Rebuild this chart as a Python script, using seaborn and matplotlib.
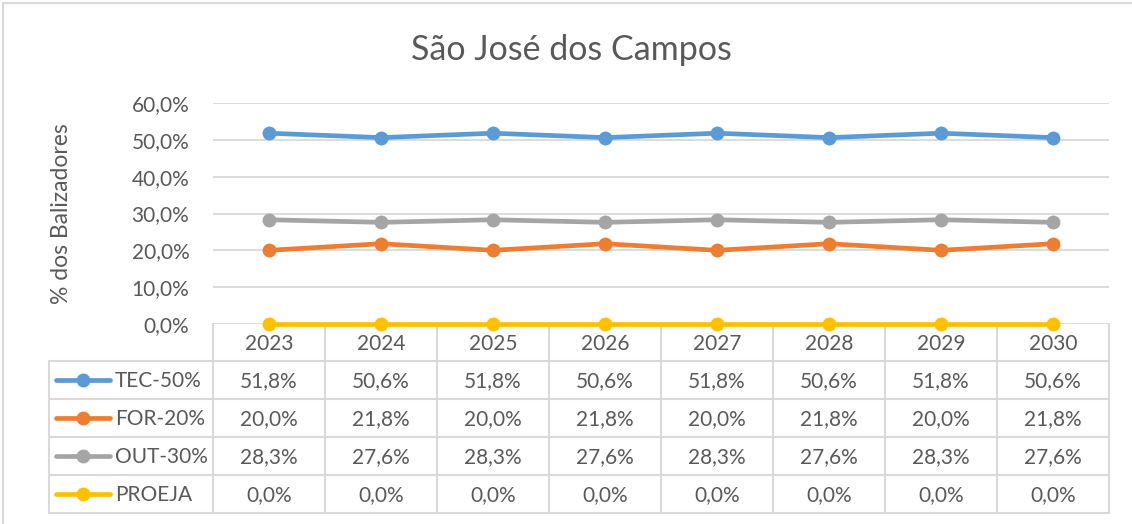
import matplotlib
matplotlib.use("Agg")
import matplotlib.pyplot as plt
from matplotlib.lines import Line2D
import matplotlib.ticker as mtick
import seaborn as sns
import pandas as pd

W, H = 1132, 524

years = ['2023', '2024', '2025', '2026', '2027', '2028', '2029', '2030']
series_names = ['TEC-50%', 'FOR-20%', 'OUT-30%', 'PROEJA']
tec = [51.8, 50.6, 51.8, 50.6, 51.8, 50.6, 51.8, 50.6]
form = [20.0, 21.8, 20.0, 21.8, 20.0, 21.8, 20.0, 21.8]
out = [28.3, 27.6, 28.3, 27.6, 28.3, 27.6, 28.3, 27.6]
proeja = [0.0, 0.0, 0.0, 0.0, 0.0, 0.0, 0.0, 0.0]
colors = ['#5B9BD5', '#ED7D31', '#A5A5A5', '#FFC000']
yticks = [0, 10, 20, 30, 40, 50, 60]

TEXT = '#595959'
GRID = '#D9D9D9'
FS = 15

sns.set_style('white')
plt.rcParams['font.family'] = ['Lato', 'DejaVu Sans']


def pct(v):
    return f'{v:.1f}%'.replace('.', ',')


def px(x, y):
    return x / W, 1 - y / H


all_values = [tec, form, out, proeja]
df = pd.DataFrame({
    'pos': list(range(len(years))) * len(series_names),
    'valor': [v for vals in all_values for v in vals],
    'serie': [name for name in series_names for _ in years],
})

fig = plt.figure(figsize=(W / 100, H / 100), dpi=100)
left, top, right, bottom = 213, 103, 1109, 324
ax = fig.add_axes([left / W, 1 - bottom / H, (right - left) / W, (bottom - top) / H])
ax.set_zorder(3)
ax.patch.set_alpha(0)

sns.lineplot(data=df, x='pos', y='valor', hue='serie', hue_order=series_names,
             palette=colors, marker='o', markersize=10, markeredgewidth=0,
             linewidth=3.4, legend=False, ax=ax)
for ln in ax.lines:
    ln.set_clip_on(False)
    ln.set_zorder(5)

ax.set_xlim(-0.5, len(years) - 0.5)
ax.set_ylim(0, 60)
ax.set_yticks(yticks)
ax.yaxis.set_major_formatter(mtick.FuncFormatter(lambda v, p: pct(v)))
ax.set_xticks([])
ax.set_xlabel('')
ax.set_ylabel('')
ax.tick_params(axis='y', length=0, pad=17, labelsize=FS, labelcolor=TEXT)
ax.grid(axis='y', color=GRID, linewidth=1.3)
for s in ax.spines.values():
    s.set_visible(False)

fig.text(*px(571, 50), 'São José dos Campos', ha='center', va='center',
         fontsize=24.5, color=TEXT)
fig.text(*px(62, 214), '% dos Balizadores', ha='center', va='center',
         rotation=90, fontsize=16.5, color=TEXT)

# outer chart border (top / left only visible)
fig.add_artist(Line2D(*zip(px(3, 3), px(3, H)), color=GRID, linewidth=1.5))
fig.add_artist(Line2D(*zip(px(3, 3), px(W, 3)), color=GRID, linewidth=1.5))

# data table
col_w = (right - left) / len(years)
row_edges = [324, 361, 399, 437, 475, 513]
leg_left = 49


def hline(y, x0, x1):
    fig.add_artist(Line2D(*zip(px(x0, y), px(x1, y)), color=GRID, linewidth=1.5))


def vline(x, y0, y1):
    fig.add_artist(Line2D(*zip(px(x, y0), px(x, y1)), color=GRID, linewidth=1.5))


for y in row_edges[1:]:
    hline(y, leg_left, right)
for k in range(len(years) + 1):
    vline(left + k * col_w, row_edges[0], row_edges[-1])
vline(leg_left, row_edges[1], row_edges[-1])

hdr_y = (row_edges[0] + row_edges[1]) / 2
for k, yr in enumerate(years):
    fig.text(*px(left + (k + 0.5) * col_w, hdr_y + 1), yr, ha='center', va='center',
             fontsize=FS, color=TEXT)

for r, (name, vals, c) in enumerate(zip(series_names, all_values, colors)):
    yc = (row_edges[r + 1] + row_edges[r + 2]) / 2
    fig.add_artist(Line2D([56 / W, 110 / W], [1 - yc / H] * 2, color=c,
                          linewidth=3.4, solid_capstyle='round'))
    fig.add_artist(Line2D([83 / W], [1 - yc / H], color=c, marker='o',
                          markersize=10, markeredgewidth=0))
    fig.text(*px(115, yc + 1), name, ha='left', va='center', fontsize=FS, color=TEXT)
    for k, v in enumerate(vals):
        fig.text(*px(left + (k + 0.5) * col_w, yc + 1), pct(v), ha='center',
                 va='center', fontsize=FS, color=TEXT)

fig.savefig('out.png', dpi=100)
